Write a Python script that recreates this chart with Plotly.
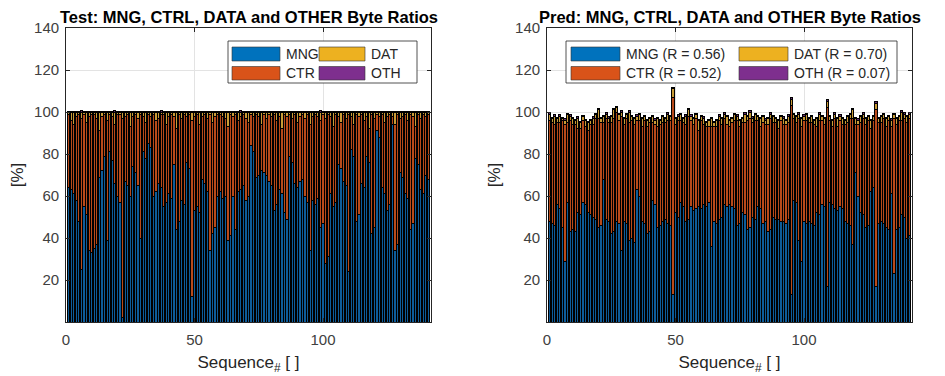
import plotly.graph_objects as go

# ---------------- data ----------------
seq = list(range(1, 142))

test_mng = [64, 63, 61, 58, 48, 25, 55, 51, 34, 33,
            35, 37, 69, 72, 79, 39, 81, 77, 66, 60,
            57, 2, 67, 65, 60, 74, 71, 65, 40, 81,
            78, 85, 83, 60, 62, 66, 64, 55, 57, 61,
            59, 75, 44, 48, 58, 56, 76, 73, 12, 53,
            55, 52, 68, 66, 62, 34, 42, 45, 60, 62,
            59, 60, 39, 41, 60, 44, 62, 63, 65, 58,
            60, 84, 81, 69, 70, 72, 71, 70, 67, 65,
            53, 56, 63, 61, 52, 49, 79, 76, 66, 64,
            67, 68, 60, 57, 34, 58, 56, 59, 45, 47,
            28, 31, 61, 55, 57, 75, 73, 67, 65, 24,
            82, 79, 48, 51, 66, 64, 79, 76, 42, 45,
            91, 88, 64, 61, 53, 56, 94, 34, 37, 71,
            69, 61, 59, 44, 47, 78, 75, 63, 61, 70,
            68]
test_ctr = [35, 33, 33, 40, 51, 72, 44, 44, 64, 66,
            64, 60, 22, 26, 20, 57, 18, 21, 28, 39,
            42, 95, 31, 34, 33, 24, 28, 32, 59, 17,
            17, 14, 15, 39, 34, 31, 35, 44, 37, 37,
            40, 23, 48, 51, 39, 43, 22, 26, 84, 45,
            44, 42, 30, 33, 35, 65, 53, 53, 39, 37,
            39, 37, 54, 58, 38, 55, 34, 35, 34, 39,
            35, 15, 17, 30, 28, 22, 28, 27, 32, 33,
            46, 40, 35, 31, 47, 49, 20, 21, 33, 31,
            31, 31, 37, 42, 60, 40, 43, 39, 51, 52,
            69, 68, 37, 38, 42, 23, 22, 32, 32, 75,
            16, 15, 51, 47, 33, 32, 19, 16, 57, 52,
            8, 10, 35, 34, 45, 43, 4, 60, 62, 26,
            29, 38, 37, 55, 51, 15, 24, 34, 38, 28,
            31]
test_dat = [1, 4, 6, 2, 1, 3, 1, 5, 2, 1,
            1, 3, 9, 2, 1, 4, 1, 2, 6, 1,
            1, 3, 2, 1, 7, 2, 1, 3, 1, 2,
            5, 1, 2, 1, 4, 3, 1, 1, 6, 2,
            1, 2, 8, 1, 3, 1, 2, 1, 4, 2,
            1, 6, 2, 1, 3, 1, 5, 2, 1, 1,
            2, 3, 7, 1, 2, 1, 4, 2, 1, 3,
            5, 1, 2, 1, 2, 6, 1, 3, 1, 2,
            1, 4, 2, 8, 1, 2, 1, 3, 1, 5,
            2, 1, 3, 1, 6, 2, 1, 2, 4, 1,
            3, 1, 2, 7, 1, 2, 5, 1, 3, 1,
            2, 6, 1, 2, 1, 4, 2, 8, 1, 3,
            1, 2, 1, 5, 2, 1, 2, 6, 1, 3,
            2, 1, 4, 1, 2, 7, 1, 3, 1, 2,
            1]
test_oth = [0.3, 0.2, 0.4, 0.2, 0.3, 0.5, 0.2, 0.3, 0.2, 0.4,
            0.2, 0.3, 0.2, 0.4, 0.3, 0.2, 0.3, 0.2, 0.5, 0.2,
            0.3, 0.2, 0.4, 0.2, 0.3, 0.2, 0.3, 0.4, 0.2, 0.3,
            0.2, 0.4, 0.3, 0.2, 0.3, 0.2, 0.5, 0.2, 0.3, 0.2,
            0.4, 0.2, 0.3, 0.2, 0.3, 0.4, 0.2, 0.3, 0.2, 0.3,
            0.2, 0.4, 0.3, 0.2, 0.3, 0.2, 0.4, 0.2, 0.3, 0.2,
            0.3, 0.2, 0.4, 0.3, 0.2, 0.3, 0.2, 0.5, 0.2, 0.3,
            0.2, 0.3, 0.4, 0.2, 0.3, 0.2, 0.3, 0.2, 0.4, 0.2,
            0.3, 0.2, 0.3, 0.4, 0.2, 0.3, 0.2, 0.3, 0.2, 0.4,
            0.2, 0.3, 0.2, 0.4, 0.3, 0.2, 0.3, 0.2, 0.5, 0.2,
            0.3, 0.2, 0.4, 0.2, 0.3, 0.2, 0.3, 0.4, 0.2, 0.3,
            0.2, 0.4, 0.3, 0.2, 0.3, 0.2, 0.4, 0.2, 0.3, 0.2,
            0.3, 0.2, 0.4, 0.3, 0.2, 0.3, 0.2, 0.4, 0.2, 0.3,
            0.2, 0.3, 0.2, 0.4, 0.3, 0.2, 0.3, 0.2, 0.4, 0.2,
            0.3]

pred_mng = [48, 47, 46, 56, 54, 45, 29, 57, 43, 44,
            43, 52, 51, 57, 56, 52, 51, 50, 49, 45,
            46, 68, 49, 48, 42, 43, 48, 47, 34, 48,
            47, 39, 40, 38, 63, 60, 48, 47, 42, 43,
            58, 56, 45, 46, 48, 49, 47, 46, 13, 52,
            50, 57, 55, 48, 49, 55, 53, 54, 55, 54,
            56, 55, 57, 36, 48, 47, 49, 50, 56, 55,
            56, 55, 54, 46, 47, 52, 51, 44, 45, 50,
            49, 55, 54, 47, 48, 43, 44, 50, 49, 49,
            48, 48, 47, 49, 13, 58, 57, 39, 29, 48,
            47, 48, 47, 46, 52, 51, 56, 55, 17, 57,
            56, 54, 53, 55, 54, 48, 47, 46, 37, 71,
            60, 52, 51, 45, 46, 62, 64, 17, 47, 48,
            47, 45, 44, 61, 23, 44, 45, 51, 50, 40,
            41]
pred_ctr = [48, 48, 48, 39, 41, 51, 65, 38, 53, 50,
            51, 40, 41, 39, 37, 39, 43, 44, 48, 52,
            49, 27, 48, 47, 53, 54, 52, 49, 64, 46,
            50, 56, 56, 56, 33, 36, 45, 49, 51, 52,
            37, 38, 48, 48, 47, 46, 49, 50, 94, 42,
            46, 39, 40, 46, 49, 41, 41, 43, 36, 42,
            38, 38, 36, 57, 45, 46, 47, 44, 41, 39,
            37, 40, 42, 50, 46, 43, 44, 52, 52, 45,
            47, 41, 39, 48, 46, 51, 53, 45, 46, 43,
            48, 46, 47, 46, 90, 39, 38, 58, 64, 48,
            49, 47, 48, 48, 41, 45, 40, 39, 85, 39,
            37, 43, 40, 41, 40, 46, 48, 51, 60, 23,
            34, 43, 46, 49, 50, 30, 32, 84, 48, 47,
            50, 48, 52, 32, 74, 50, 51, 45, 47, 55,
            56]
pred_dat = [3, 2, 4, 2, 3, 1, 2, 4, 2, 3,
            2, 5, 3, 2, 3, 4, 2, 3, 2, 4,
            2, 3, 2, 2, 3, 4, 2, 3, 2, 3,
            2, 5, 2, 3, 2, 3, 4, 2, 3, 2,
            3, 2, 4, 2, 3, 2, 3, 2, 4, 3,
            2, 3, 2, 4, 3, 2, 3, 2, 5, 2,
            3, 2, 3, 4, 2, 3, 2, 3, 2, 4,
            3, 2, 3, 2, 3, 2, 4, 2, 3, 2,
            3, 2, 4, 3, 2, 3, 2, 3, 2, 4,
            2, 3, 2, 3, 3, 2, 3, 2, 4, 2,
            3, 2, 3, 2, 4, 3, 2, 3, 3, 2,
            3, 2, 4, 2, 3, 2, 3, 2, 4, 3,
            2, 3, 2, 3, 2, 4, 2, 3, 2, 3,
            2, 4, 2, 3, 2, 3, 2, 4, 2, 3,
            2]
pred_oth = [0.6, 0.5, 0.7, 0.4, 0.6, 0.5, 0.8, 0.5, 0.6, 0.4,
            0.5, 0.7, 0.6, 0.5, 0.4, 0.6, 0.5, 0.7, 0.5, 0.6,
            0.4, 0.5, 0.6, 0.7, 0.5, 0.6, 0.4, 0.5, 0.8, 0.6,
            0.5, 0.6, 0.4, 0.5, 0.7, 0.5, 0.6, 0.5, 0.4, 0.6,
            0.5, 0.7, 0.5, 0.6, 0.4, 0.5, 0.6, 0.5, 0.9, 0.5,
            0.6, 0.4, 0.5, 0.7, 0.5, 0.6, 0.5, 0.4, 0.6, 0.5,
            0.7, 0.5, 0.6, 0.4, 0.5, 0.6, 0.7, 0.5, 0.6, 0.4,
            0.5, 0.6, 0.5, 0.7, 0.4, 0.5, 0.6, 0.5, 0.6, 0.7,
            0.5, 0.4, 0.6, 0.5, 0.7, 0.5, 0.6, 0.4, 0.5, 0.6,
            0.5, 0.7, 0.5, 0.6, 0.8, 0.5, 0.4, 0.6, 0.5, 0.7,
            0.5, 0.6, 0.4, 0.5, 0.6, 0.7, 0.5, 0.6, 0.8, 0.5,
            0.4, 0.6, 0.5, 0.7, 0.5, 0.6, 0.4, 0.5, 0.6, 0.5,
            0.7, 0.5, 0.6, 0.4, 0.5, 0.6, 0.5, 0.8, 0.6, 0.5,
            0.4, 0.6, 0.5, 0.7, 0.5, 0.6, 0.4, 0.5, 0.6, 0.5,
            0.7]

test_labels = ["MNG", "CTR", "DAT", "OTH"]
pred_labels = ["MNG (R = 0.56)", "CTR (R = 0.52)", "DAT (R = 0.70)", "OTH (R = 0.07)"]
test_title = "Test: MNG, CTRL, DATA and OTHER Byte Ratios"
pred_title = "Pred: MNG, CTRL, DATA and OTHER Byte Ratios"
x_title = "Sequence<sub>#</sub> [ ]"
y_title = "[%]"
x_ticks = [0, 50, 100]
y_ticks = [20, 40, 60, 80, 100, 120, 140]

for arr in (test_mng, test_ctr, test_dat, test_oth, pred_mng, pred_ctr, pred_dat, pred_oth):
    assert len(arr) == len(seq), len(arr)

# ---------------- styling / layout ----------------
COLORS = ["#0072BD", "#D95319", "#EDB120", "#7E2F8E"]          # legend swatches
BAR_COLORS = ["#0d5c9a", "#b84a1a", "#c99b35", "#6a2a78"]      # bars as they appear (dark edges)
FONT = "Liberation Sans, Arial, Helvetica, sans-serif"
OFF = 8                      # page body margin of the html page
W, H = 945 - OFF, 376 - OFF
ML, MR, MT, MB = 66 - OFF, 33, 28 - OFF, 54
PW = W - ML - MR
PH = H - MT - MB
AXW = 365
AX_LEFTS = [66, 547]         # page pixel positions of the two axes


def fx(x):                   # page pixel -> paper
    return (x - OFF - ML) / PW


def fy(y):
    return (MT + PH - (y - OFF)) / PH


fig = go.Figure()
panels = [("", [test_mng, test_ctr, test_dat, test_oth], test_labels),
          ("2", [pred_mng, pred_ctr, pred_dat, pred_oth], pred_labels)]
for suf, series, names in panels:
    for vals, name, col in zip(series, names, BAR_COLORS):
        fig.add_trace(go.Bar(
            x=seq, y=vals, name=name,
            marker=dict(color=col, line=dict(color="black", width=1.0)),
            xaxis="x" + suf, yaxis="y" + suf, showlegend=False))

axis_common = dict(
    showline=True, linecolor="#262626", linewidth=0.8, mirror="ticks",
    ticks="inside", ticklen=4, tickcolor="#262626", tickwidth=0.8,
    showgrid=True, gridcolor="#E3E3E3", gridwidth=0.8, zeroline=False,
    tickfont=dict(family=FONT, size=15, color="#404040"),
)
xa = dict(axis_common, range=[0, 142], tickvals=x_ticks, ticklabelstandoff=4,
          title=dict(text=x_title, font=dict(family=FONT, size=17, color="#262626"), standoff=9))
ya = dict(axis_common, range=[0, 140], tickvals=y_ticks, ticklabelstandoff=3,
          title=dict(text=y_title, font=dict(family=FONT, size=17, color="#262626"), standoff=10))

fig.update_layout(
    width=W, height=H,
    margin=dict(l=ML, r=MR, t=MT, b=MB, autoexpand=False),
    paper_bgcolor="white", plot_bgcolor="white",
    barmode="stack", bargap=0.15,
    showlegend=False,
    xaxis=dict(xa, domain=[0, AXW / PW], anchor="y"),
    yaxis=dict(ya, domain=[0, 1], anchor="x"),
    xaxis2=dict(xa, domain=[1 - AXW / PW, 1], anchor="y2"),
    yaxis2=dict(ya, domain=[0, 1], anchor="x2"),
)

shapes = []
annotations = []

# titles
for left, title in zip(AX_LEFTS, [test_title, pred_title]):
    annotations.append(dict(
        x=fx(left + AXW / 2), y=fy(16.6), xref="paper", yref="paper",
        text="<b>" + title + "</b>", showarrow=False,
        xanchor="center", yanchor="middle", borderpad=0,
        font=dict(family=FONT, size=16.5, color="black")))

# manual legends (wide colour swatches as in the original)
legend_specs = [
    dict(left=66, box=(162, 351), c1=(166, 214), c2=(253, 299), labels=test_labels),
    dict(left=547, box=(19, 350), c1=(24, 73), c2=(192, 241), labels=pred_labels),
]
rows_y = [(47, 61), (66.5, 80)]
for spec in legend_specs:
    L = spec["left"]
    bx0, bx1 = spec["box"]
    shapes.append(dict(type="rect", xref="paper", yref="paper",
                       x0=fx(L + bx0), x1=fx(L + bx1), y0=fy(83), y1=fy(41),
                       fillcolor="white", line=dict(color="#262626", width=0.8), layer="above"))
    placement = [(spec["c1"], 0), (spec["c1"], 1), (spec["c2"], 0), (spec["c2"], 1)]
    for (cx, row), lab, col in zip(placement, spec["labels"], COLORS):
        y0, y1 = rows_y[row]
        shapes.append(dict(type="rect", xref="paper", yref="paper",
                           x0=fx(L + cx[0]), x1=fx(L + cx[1]), y0=fy(y1), y1=fy(y0),
                           fillcolor=col, line=dict(color="#333333", width=0.6), layer="above"))
        annotations.append(dict(
            x=fx(L + cx[1] + 4), y=fy((y0 + y1) / 2), xref="paper", yref="paper",
            text=lab, showarrow=False, xanchor="left", yanchor="middle",
            font=dict(family=FONT, size=14, color="#262626")))

fig.update_layout(shapes=shapes, annotations=annotations)
fig.write_html("out.html")
